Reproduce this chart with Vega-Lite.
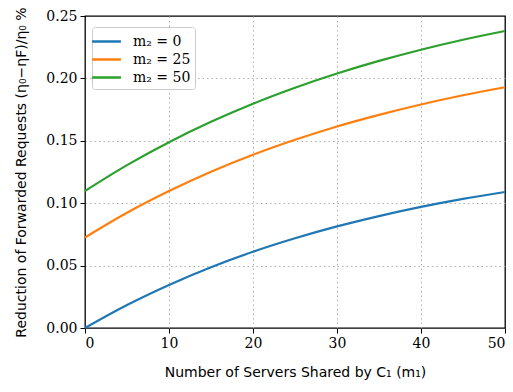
{
  "$schema": "https://vega.github.io/schema/vega-lite/v6.json",
  "width": 420,
  "height": 312,
  "autosize": {"type": "none"},
  "padding": {"left": 85, "top": 16, "right": 8, "bottom": 64},
  "background": "white",
  "config": {
    "view": {"stroke": "black", "strokeWidth": 1.3},
    "axis": {
      "labelFont": "DejaVu Serif",
      "labelFontSize": 14,
      "labelColor": "black",
      "titleFont": "DejaVu Sans",
      "titleFontSize": 14,
      "titleFontWeight": "normal",
      "titleColor": "black",
      "domain": false,
      "tickColor": "black",
      "tickSize": 5,
      "tickWidth": 1,
      "labelPadding": 3,
      "gridColor": "#b0b0b0",
      "gridDash": [1.5, 3],
      "gridWidth": 1
    }
  },
  "data": {
    "values": [
      {"m1": 0, "v": 0.0, "s": "m₂ = 0"},
      {"m1": 5, "v": 0.0184, "s": "m₂ = 0"},
      {"m1": 10, "v": 0.0345, "s": "m₂ = 0"},
      {"m1": 15, "v": 0.0487, "s": "m₂ = 0"},
      {"m1": 20, "v": 0.0611, "s": "m₂ = 0"},
      {"m1": 25, "v": 0.0719, "s": "m₂ = 0"},
      {"m1": 30, "v": 0.0814, "s": "m₂ = 0"},
      {"m1": 35, "v": 0.0897, "s": "m₂ = 0"},
      {"m1": 40, "v": 0.0970, "s": "m₂ = 0"},
      {"m1": 45, "v": 0.1034, "s": "m₂ = 0"},
      {"m1": 50, "v": 0.1090, "s": "m₂ = 0"},
      {"m1": 0, "v": 0.0725, "s": "m₂ = 25"},
      {"m1": 5, "v": 0.0923, "s": "m₂ = 25"},
      {"m1": 10, "v": 0.1097, "s": "m₂ = 25"},
      {"m1": 15, "v": 0.1252, "s": "m₂ = 25"},
      {"m1": 20, "v": 0.1388, "s": "m₂ = 25"},
      {"m1": 25, "v": 0.1508, "s": "m₂ = 25"},
      {"m1": 30, "v": 0.1615, "s": "m₂ = 25"},
      {"m1": 35, "v": 0.1708, "s": "m₂ = 25"},
      {"m1": 40, "v": 0.1791, "s": "m₂ = 25"},
      {"m1": 45, "v": 0.1865, "s": "m₂ = 25"},
      {"m1": 50, "v": 0.1929, "s": "m₂ = 25"},
      {"m1": 0, "v": 0.1098, "s": "m₂ = 50"},
      {"m1": 5, "v": 0.1305, "s": "m₂ = 50"},
      {"m1": 10, "v": 0.1489, "s": "m₂ = 50"},
      {"m1": 15, "v": 0.1652, "s": "m₂ = 50"},
      {"m1": 20, "v": 0.1797, "s": "m₂ = 50"},
      {"m1": 25, "v": 0.1925, "s": "m₂ = 50"},
      {"m1": 30, "v": 0.2039, "s": "m₂ = 50"},
      {"m1": 35, "v": 0.2140, "s": "m₂ = 50"},
      {"m1": 40, "v": 0.2230, "s": "m₂ = 50"},
      {"m1": 45, "v": 0.2310, "s": "m₂ = 50"},
      {"m1": 50, "v": 0.2380, "s": "m₂ = 50"}
    ]
  },
  "mark": {"type": "line", "strokeWidth": 2.2, "interpolate": "monotone"},
  "encoding": {
    "x": {
      "field": "m1",
      "type": "quantitative",
      "scale": {"domain": [0, 50], "nice": false},
      "axis": {
        "values": [0, 10, 20, 30, 40, 50],
        "title": "Number of Servers Shared by C₁ (m₁)",
        "titlePadding": 15,
        "grid": true,
        "gridOpacity": {"condition": {"test": "datum.value == 0 || datum.value == 50", "value": 0}, "value": 1}
      }
    },
    "y": {
      "field": "v",
      "type": "quantitative",
      "scale": {"domain": [0, 0.25], "nice": false},
      "axis": {
        "values": [0, 0.05, 0.1, 0.15, 0.2, 0.25],
        "format": ".2f",
        "title": "Reduction of Forwarded Requests (η₀−ηF)/η₀ %",
        "titlePadding": 17,
        "grid": true,
        "gridOpacity": {"condition": {"test": "datum.value == 0 || datum.value == 0.25", "value": 0}, "value": 1}
      }
    },
    "color": {
      "field": "s",
      "type": "nominal",
      "scale": {"domain": ["m₂ = 0", "m₂ = 25", "m₂ = 50"], "range": ["#1f77b4", "#ff7f0e", "#2ca02c"]},
      "legend": {
        "title": null,
        "orient": "none",
        "legendX": 7,
        "legendY": 11,
        "symbolType": "M-1.6,0H1.6",
        "symbolSize": 324,
        "symbolStrokeWidth": 2.5,
        "labelFont": "DejaVu Serif",
        "labelFontSize": 14,
        "labelOffset": 16,
        "labelColor": "black",
        "fillColor": "white",
        "strokeColor": "#cccccc",
        "cornerRadius": 3,
        "padding": 4,
        "rowPadding": 0
      }
    }
  }
}
